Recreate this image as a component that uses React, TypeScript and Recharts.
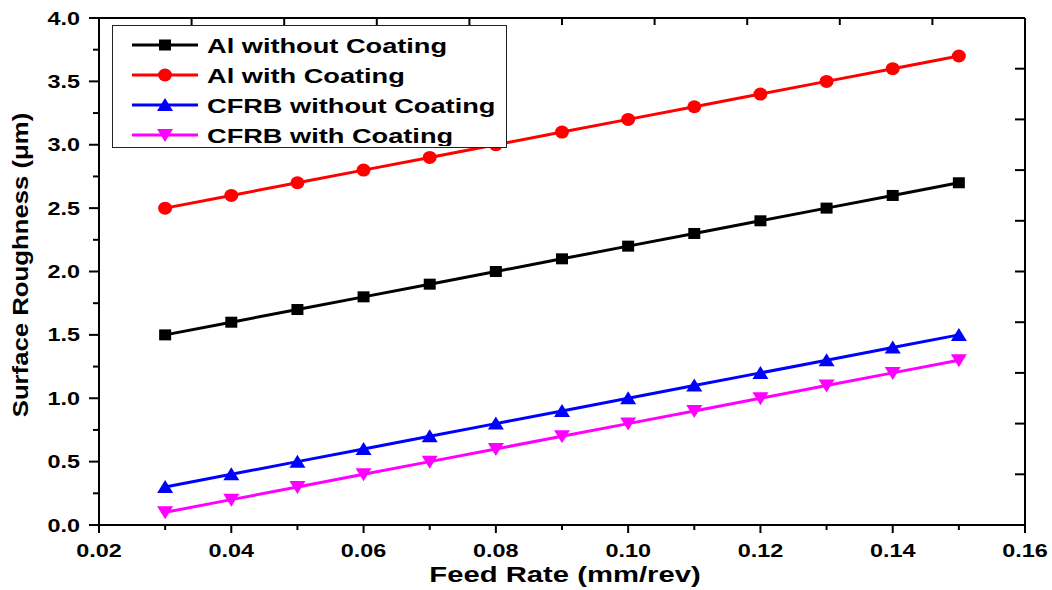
import React from 'react'
import { LineChart, Line, XAxis, YAxis, Legend, Label } from 'recharts'

// feed rate (mm/rev)
const feedRate = [0.03, 0.04, 0.05, 0.06, 0.07, 0.08, 0.09, 0.1, 0.11, 0.12, 0.13, 0.14, 0.15]

// surface roughness (µm)
const alWithout = [1.5, 1.6, 1.7, 1.8, 1.9, 2.0, 2.1, 2.2, 2.3, 2.4, 2.5, 2.6, 2.7]
const alWith = [2.5, 2.6, 2.7, 2.8, 2.9, 3.0, 3.1, 3.2, 3.3, 3.4, 3.5, 3.6, 3.7]
const cfrbWithout = [0.3, 0.4, 0.5, 0.6, 0.7, 0.8, 0.9, 1.0, 1.1, 1.2, 1.3, 1.4, 1.5]
const cfrbWith = [0.1, 0.2, 0.3, 0.4, 0.5, 0.6, 0.7, 0.8, 0.9, 1.0, 1.1, 1.2, 1.3]

const xTicks = [0.02, 0.03, 0.04, 0.05, 0.06, 0.07, 0.08, 0.09, 0.1, 0.11, 0.12, 0.13, 0.14, 0.15, 0.16]
const yTicks = [0, 0.25, 0.5, 0.75, 1, 1.25, 1.5, 1.75, 2, 2.25, 2.5, 2.75, 3, 3.25, 3.5, 3.75, 4]
// top / right frame ticks (10 divisions, unlabelled)
const topTicks = [0.034, 0.048, 0.062, 0.076, 0.09, 0.104, 0.118, 0.132, 0.146]
const rightTicks = [0.4, 0.8, 1.2, 1.6, 2.0, 2.4, 2.8, 3.2, 3.6]

const series = [
  { key: 'alWithout', name: 'Al without Coating', color: '#000000', shape: 'square' },
  { key: 'alWith', name: 'Al with Coating', color: '#FF0000', shape: 'circle' },
  { key: 'cfrbWithout', name: 'CFRB without Coating', color: '#0000FF', shape: 'up' },
  { key: 'cfrbWith', name: 'CFRB with Coating', color: '#FF00FF', shape: 'down' },
]

const data = feedRate.map((f, i) => ({
  feed: f,
  alWithout: alWithout[i],
  alWith: alWith[i],
  cfrbWithout: cfrbWithout[i],
  cfrbWith: cfrbWith[i],
}))

const FONT = '"Liberation Sans", Arial, sans-serif'

const Marker = ({ shape, cx, cy, color }: { shape: string; cx: number; cy: number; color: string }) => {
  if (shape === 'square') return <rect x={cx - 6} y={cy - 5.5} width={12} height={11} fill={color} />
  if (shape === 'circle') return <ellipse cx={cx} cy={cy} rx={7} ry={6.5} fill={color} />
  if (shape === 'up')
    return <polygon points={`${cx},${cy - 7} ${cx - 8},${cy + 6} ${cx + 8},${cy + 6}`} fill={color} />
  return <polygon points={`${cx},${cy + 7} ${cx - 8},${cy - 6} ${cx + 8},${cy - 6}`} fill={color} />
}

const XTick = (props: any) => {
  const { x, y, payload } = props
  const major = Math.round(payload.value * 100) % 2 === 0
  return (
    <g>
      <line x1={x} y1={y} x2={x} y2={y + (major ? 8 : 5)} stroke="#000" strokeWidth={2} />
      {major && (
        <g transform={`translate(${x},${y + 32}) scale(1.3,1)`}>
          <text x={0} y={0} textAnchor="middle" fontSize={18} fontWeight="bold" fontFamily={FONT} fill="#000">
            {payload.value.toFixed(2)}
          </text>
        </g>
      )}
    </g>
  )
}

const YTick = (props: any) => {
  const { x, y, payload } = props
  const major = Math.round(payload.value * 100) % 50 === 0
  return (
    <g>
      <line x1={x} y1={y} x2={x - (major ? 10 : 6)} y2={y} stroke="#000" strokeWidth={2} />
      {major && (
        <g transform={`translate(${x - 19},${y}) scale(1.3,1)`}>
          <text x={0} y={0} dy={6.5} textAnchor="end" fontSize={18} fontWeight="bold" fontFamily={FONT} fill="#000">
            {payload.value.toFixed(1)}
          </text>
        </g>
      )}
    </g>
  )
}

// mirrored frame axes: tick marks only, no labels
const NoLabel = () => <g />

const renderLegend = () => (
  <div
    style={{
      width: 395,
      height: 123,
      border: '1.5px solid #222',
      boxSizing: 'border-box',
      background: '#fff',
    }}
  >
    <svg width={392} height={120}>
      {series.map((s, i) => {
        const cy = 19 + i * 30
        return (
          <g key={s.key}>
            <line x1={19} y1={cy} x2={85} y2={cy} stroke={s.color} strokeWidth={3} />
            <Marker shape={s.shape} cx={52} cy={cy} color={s.color} />
            <g transform={`translate(94,${cy + 7.5}) scale(1.36,1)`}>
              <text x={0} y={0} fontSize={20} fontWeight="bold" fontFamily={FONT} fill="#000">
                {s.name}
              </text>
            </g>
          </g>
        )
      })}
    </svg>
  </div>
)

export default function App() {
  return (
    <div style={{ position: 'absolute', left: 0, top: 0, background: '#fff' }}>
      <LineChart width={1052} height={590} data={data} margin={{ top: 18, right: 27, bottom: 0, left: 0 }}>
        <XAxis
          dataKey="feed"
          type="number"
          domain={[0.02, 0.16]}
          allowDataOverflow
          ticks={xTicks}
          interval={0}
          height={65}
          tickSize={0}
          tickMargin={0}
          tickLine={false}
          tick={<XTick />}
          axisLine={{ stroke: '#000', strokeWidth: 2 }}
        >
          <Label
            content={() => (
              <g transform="translate(565,582) scale(1.33,1)">
                <text x={0} y={0} textAnchor="middle" fontSize={22} fontWeight="bold" fontFamily={FONT} fill="#000">
                  Feed Rate (mm/rev)
                </text>
              </g>
            )}
          />
        </XAxis>
        <XAxis
          xAxisId="top"
          dataKey="feed"
          orientation="top"
          type="number"
          domain={[0.02, 0.16]}
          allowDataOverflow
          ticks={topTicks}
          interval={0}
          mirror
          height={1}
          tick={<NoLabel />}
          tickSize={7}
          tickLine={{ stroke: '#000', strokeWidth: 2 }}
          axisLine={{ stroke: '#000', strokeWidth: 2 }}
        />
        <YAxis
          type="number"
          domain={[0, 4]}
          allowDataOverflow
          ticks={yTicks}
          interval={0}
          width={99}
          tickSize={0}
          tickMargin={0}
          tickLine={false}
          tick={<YTick />}
          axisLine={{ stroke: '#000', strokeWidth: 2 }}
        >
          <Label
            content={() => (
              <g transform="translate(28,265) rotate(-90) scale(1.17,1)">
                <text x={0} y={0} textAnchor="middle" fontSize={22} fontWeight="bold" fontFamily={FONT} fill="#000">
                  Surface Roughness (μm)
                </text>
              </g>
            )}
          />
        </YAxis>
        <YAxis
          yAxisId="right"
          orientation="right"
          type="number"
          domain={[0, 4]}
          allowDataOverflow
          ticks={rightTicks}
          interval={0}
          mirror
          width={1}
          tick={<NoLabel />}
          tickSize={10}
          tickLine={{ stroke: '#000', strokeWidth: 2 }}
          axisLine={{ stroke: '#000', strokeWidth: 2 }}
        />
        <Legend
          layout="vertical"
          align="center"
          verticalAlign="middle"
          content={renderLegend}
          wrapperStyle={{ position: 'absolute', left: 112, top: 25, width: 395, height: 123 }}
        />
        {/* invisible carrier so the frame axes get a scale */}
        <Line
          xAxisId="top"
          yAxisId="right"
          dataKey="alWithout"
          stroke="none"
          dot={false}
          activeDot={false}
          legendType="none"
          isAnimationActive={false}
        />
        {series.map((s) => (
          <Line
            key={s.key}
            dataKey={s.key}
            name={s.name}
            stroke={s.color}
            strokeWidth={3}
            isAnimationActive={false}
            dot={(p: any) => <Marker key={`${s.key}-${p.index}`} shape={s.shape} cx={p.cx} cy={p.cy} color={s.color} />}
            activeDot={false}
          />
        ))}
      </LineChart>
    </div>
  )
}
